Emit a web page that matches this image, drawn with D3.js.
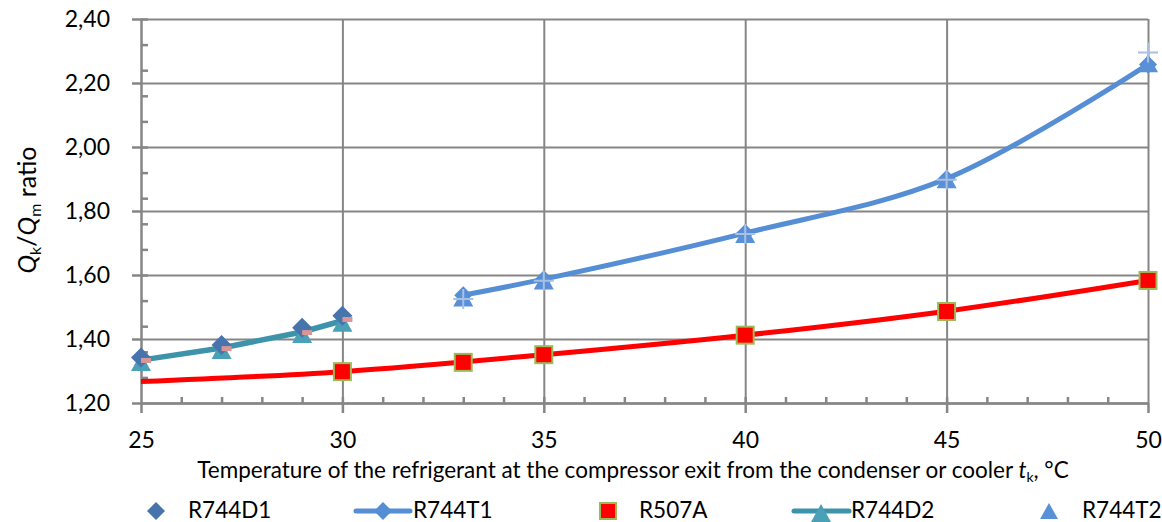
<!DOCTYPE html>
<html>
<head>
<meta charset="utf-8">
<script src="https://cdn.jsdelivr.net/npm/d3@7/dist/d3.min.js"></script>
<style>
  html, body { margin: 0; padding: 0; background: #fff; }
  #chart text { font-family: Lato, "Open Sans", sans-serif; fill: #000; }
</style>
</head>
<body>
<div id="chart"></div>
<script>
// Axis ticks
const xTicks = [25, 30, 35, 40, 45, 50];
const yTicks = [1.2, 1.4, 1.6, 1.8, 2.0, 2.2, 2.4];

// R744 subcritical (D) runs
const tempD = [25, 27, 29, 30];
const r744d1 = [1.342, 1.381, 1.435, 1.473];
const r744d2 = [1.334, 1.372, 1.422, 1.457];
const r744dMark = [1.333, 1.370, 1.420, 1.461]; // small pink marks, not in legend

// R744 transcritical (T) runs
const tempT = [33, 35, 40, 45, 50];
const r744t1 = [1.537, 1.587, 1.731, 1.901, 2.258];
const r744t2 = [1.530, 1.583, 1.728, 1.899, 2.262];
const r744tMark = [1.525, 1.582, 1.728, 1.898, 2.295]; // light crosses, not in legend

// R507A points and its trend curve
const tempR507A = [30, 33, 35, 40, 45, 50];
const r507a = [1.298, 1.327, 1.351, 1.412, 1.486, 1.583];
const tempTrend = [25, 30, 35, 40, 45, 50];
const r507aTrend = [1.267, 1.298, 1.351, 1.412, 1.487, 1.583];

const legendNames = ['R744D1', 'R744T1', 'R507A', 'R744D2', 'R744T2'];

function createChart() {
    const width = 1162;
    const height = 522;
    const margin = { top: 19, right: 14, bottom: 119, left: 141 };
    const innerW = width - margin.left - margin.right;
    const innerH = height - margin.top - margin.bottom;

    const gridColor = '#868686';
    const blue = '#558ed5';
    const teal = '#3c93aa';

    const svg = d3.select('#chart')
        .append('svg')
        .attr('width', width)
        .attr('height', height);

    const g = svg.append('g')
        .attr('transform', `translate(${margin.left}, ${margin.top})`);

    const x = d3.scaleLinear().domain([25, 50]).range([0, innerW]);
    const y = d3.scaleLinear().domain([1.2, 2.4]).range([innerH, 0]);

    const fmt = d => d3.format('.2f')(d).replace('.', ',');

    // Horizontal gridlines
    g.append('g')
        .call(d3.axisLeft(y).tickValues(yTicks).tickSize(-innerW).tickFormat(''))
        .call(a => a.select('.domain').remove())
        .call(a => a.selectAll('line').attr('stroke', gridColor).attr('stroke-width', 2));

    // Vertical gridlines
    g.append('g')
        .call(d3.axisTop(x).tickValues(xTicks.slice(1)).tickSize(-innerH).tickFormat(''))
        .call(a => a.select('.domain').remove())
        .call(a => a.selectAll('line').attr('stroke', gridColor).attr('stroke-width', 2));

    // Minor ticks (inside)
    g.append('g')
        .call(d3.axisLeft(y).tickValues(d3.range(1.28, 2.41, 0.08)).tickSize(-7).tickFormat(''))
        .call(a => a.select('.domain').remove())
        .call(a => a.selectAll('line').attr('stroke', gridColor).attr('stroke-width', 2.5));
    g.append('g')
        .attr('transform', `translate(0, ${innerH})`)
        .call(d3.axisBottom(x).tickValues(d3.range(26, 50, 1)).tickSize(-6).tickFormat(''))
        .call(a => a.select('.domain').remove())
        .call(a => a.selectAll('line').attr('stroke', gridColor).attr('stroke-width', 2.5));

    // Y axis with labels
    const yAxis = g.append('g')
        .call(d3.axisLeft(y).tickValues(yTicks).tickSize(9).tickSizeOuter(0).tickPadding(22).tickFormat(fmt));
    yAxis.select('.domain').attr('stroke', gridColor).attr('stroke-width', 2.5);
    yAxis.selectAll('line').attr('stroke', gridColor).attr('stroke-width', 2.5);
    yAxis.selectAll('text').style('font-size', '23px');

    // X axis with labels
    const xAxis = g.append('g')
        .attr('transform', `translate(0, ${innerH})`)
        .call(d3.axisBottom(x).tickValues(xTicks).tickSize(10).tickSizeOuter(0).tickPadding(19).tickFormat(d3.format('d')));
    xAxis.select('.domain').attr('stroke', gridColor).attr('stroke-width', 2.5);
    xAxis.selectAll('line').attr('stroke', gridColor).attr('stroke-width', 2.5);
    xAxis.selectAll('text').style('font-size', '23px');

    // Marker helpers
    const diamond = (r) => `M0,${-r}L${r},0L0,${r}L${-r},0Z`;
    const triangle = (w, h) => `M0,${-h / 2}L${w / 2},${h / 2}L${-w / 2},${h / 2}Z`;
    const cross = (r) => `M${-r},0H${r}M0,${-r}V${r}`;

    const zip = (xs, ys) => xs.map((t, i) => ({ t, v: ys[i] }));
    const smooth = d3.line().x(d => x(d.t)).y(d => y(d.v)).curve(d3.curveCatmullRom.alpha(0.5));
    const straight = d3.line().x(d => x(d.t)).y(d => y(d.v));

    // R507A trend line
    g.append('path')
        .attr('d', smooth(zip(tempTrend, r507aTrend)))
        .attr('fill', 'none').attr('stroke', '#ff0000').attr('stroke-width', 5);

    g.selectAll('.sq')
        .data(zip(tempR507A, r507a))
        .enter().append('rect')
        .attr('x', d => x(d.t) - 8.5).attr('y', d => y(d.v) - 8.5)
        .attr('width', 17).attr('height', 17)
        .attr('fill', '#ff0000').attr('stroke', '#9bbb59').attr('stroke-width', 2);

    // R744D2 line + triangles
    g.append('path')
        .attr('d', straight(zip(tempD, r744d2)))
        .attr('fill', 'none').attr('stroke', teal).attr('stroke-width', 5.5);
    g.selectAll('.tri-d2')
        .data(zip(tempD, r744d2))
        .enter().append('path')
        .attr('transform', d => `translate(${x(d.t)}, ${y(d.v) + 2})`)
        .attr('d', triangle(20, 18))
        .attr('fill', '#4aa0b6');

    // R744D1 diamonds
    g.selectAll('.dia-d1')
        .data(zip(tempD, r744d1))
        .enter().append('path')
        .attr('transform', d => `translate(${x(d.t)}, ${y(d.v)})`)
        .attr('d', diamond(10))
        .attr('fill', '#4874ae');

    // pink marks
    g.selectAll('.pink')
        .data(zip(tempD, r744dMark))
        .enter().append('rect')
        .attr('x', d => x(d.t)).attr('y', d => y(d.v) - 2.5)
        .attr('width', 10).attr('height', 5)
        .attr('fill', '#d99694');

    // R744T1 line + diamonds
    g.append('path')
        .attr('d', smooth(zip(tempT, r744t1)))
        .attr('fill', 'none').attr('stroke', blue).attr('stroke-width', 5);
    g.selectAll('.dia-t1')
        .data(zip(tempT, r744t1))
        .enter().append('path')
        .attr('transform', d => `translate(${x(d.t)}, ${y(d.v)})`)
        .attr('d', diamond(9))
        .attr('fill', blue);

    // R744T2 triangles
    g.selectAll('.tri-t2')
        .data(zip(tempT, r744t2))
        .enter().append('path')
        .attr('transform', d => `translate(${x(d.t)}, ${y(d.v)})`)
        .attr('d', triangle(20, 18))
        .attr('fill', '#5990d8');

    // light crosses
    g.selectAll('.cross')
        .data(zip(tempT, r744tMark))
        .enter().append('path')
        .attr('transform', d => `translate(${x(d.t)}, ${y(d.v)})`)
        .attr('d', cross(10))
        .attr('fill', 'none').attr('stroke', '#a9c0e0').attr('stroke-width', 2);

    // Y axis title
    const yt = svg.append('text')
        .attr('transform', 'translate(36, 210) rotate(-90)')
        .attr('text-anchor', 'middle')
        .style('font-size', '25px');
    yt.append('tspan').style('font-style', 'italic').text('Q');
    yt.append('tspan').attr('dy', 5).style('font-size', '16px').text('k');
    yt.append('tspan').attr('dy', -5).text('/');
    yt.append('tspan').style('font-style', 'italic').text('Q');
    yt.append('tspan').attr('dy', 5).style('font-size', '16px').text('m');
    yt.append('tspan').attr('dy', -5).text(' ratio');

    // X axis title
    const xt = svg.append('text')
        .attr('x', 633).attr('y', 478)
        .attr('text-anchor', 'middle')
        .style('font-size', '22.5px');
    xt.append('tspan').text('Temperature of the refrigerant at the compressor exit from the condenser or cooler ');
    xt.append('tspan').style('font-style', 'italic').text('t');
    xt.append('tspan').attr('dy', 4).style('font-size', '14px').text('k');
    xt.append('tspan').attr('dy', -4).text(', °C');

    // Legend
    const legendY = 511;
    const legendLayout = [
        { marker: 156, text: 188, line: null },
        { marker: 383, text: 413, line: [356, 410] },
        { marker: 608, text: 639, line: null },
        { marker: 821, text: 851, line: [794, 849] },
        { marker: 1049, text: 1082, line: null }
    ];
    const legend = svg.append('g').attr('class', 'legend');
    legendNames.forEach((name, i) => {
        const L = legendLayout[i];
        const e = legend.append('g');
        if (L.line) {
            e.append('line')
                .attr('x1', L.line[0]).attr('x2', L.line[1])
                .attr('y1', legendY).attr('y2', legendY)
                .attr('stroke', i === 1 ? blue : teal).attr('stroke-width', 5)
                .attr('stroke-linecap', 'round');
        }
        const m = e.append('g').attr('transform', `translate(${L.marker}, ${legendY})`);
        if (i === 0) m.append('path').attr('d', diamond(9)).attr('fill', '#4874ae');
        if (i === 1) m.append('path').attr('d', diamond(9)).attr('fill', blue);
        if (i === 2) m.append('rect').attr('x', -8).attr('y', -8).attr('width', 16).attr('height', 16)
            .attr('fill', '#ff0000').attr('stroke', '#9bbb59').attr('stroke-width', 2);
        if (i === 3) m.append('path').attr('d', triangle(20, 18)).attr('transform', 'translate(0,2)').attr('fill', '#4aa0b6');
        if (i === 4) m.append('path').attr('d', triangle(18, 16)).attr('fill', '#5990d8');
        e.append('text')
            .attr('x', L.text).attr('y', legendY + 7)
            .style('font-size', '22.5px')
            .text(name);
    });
}

document.addEventListener('DOMContentLoaded', createChart);
</script>
</body>
</html>
